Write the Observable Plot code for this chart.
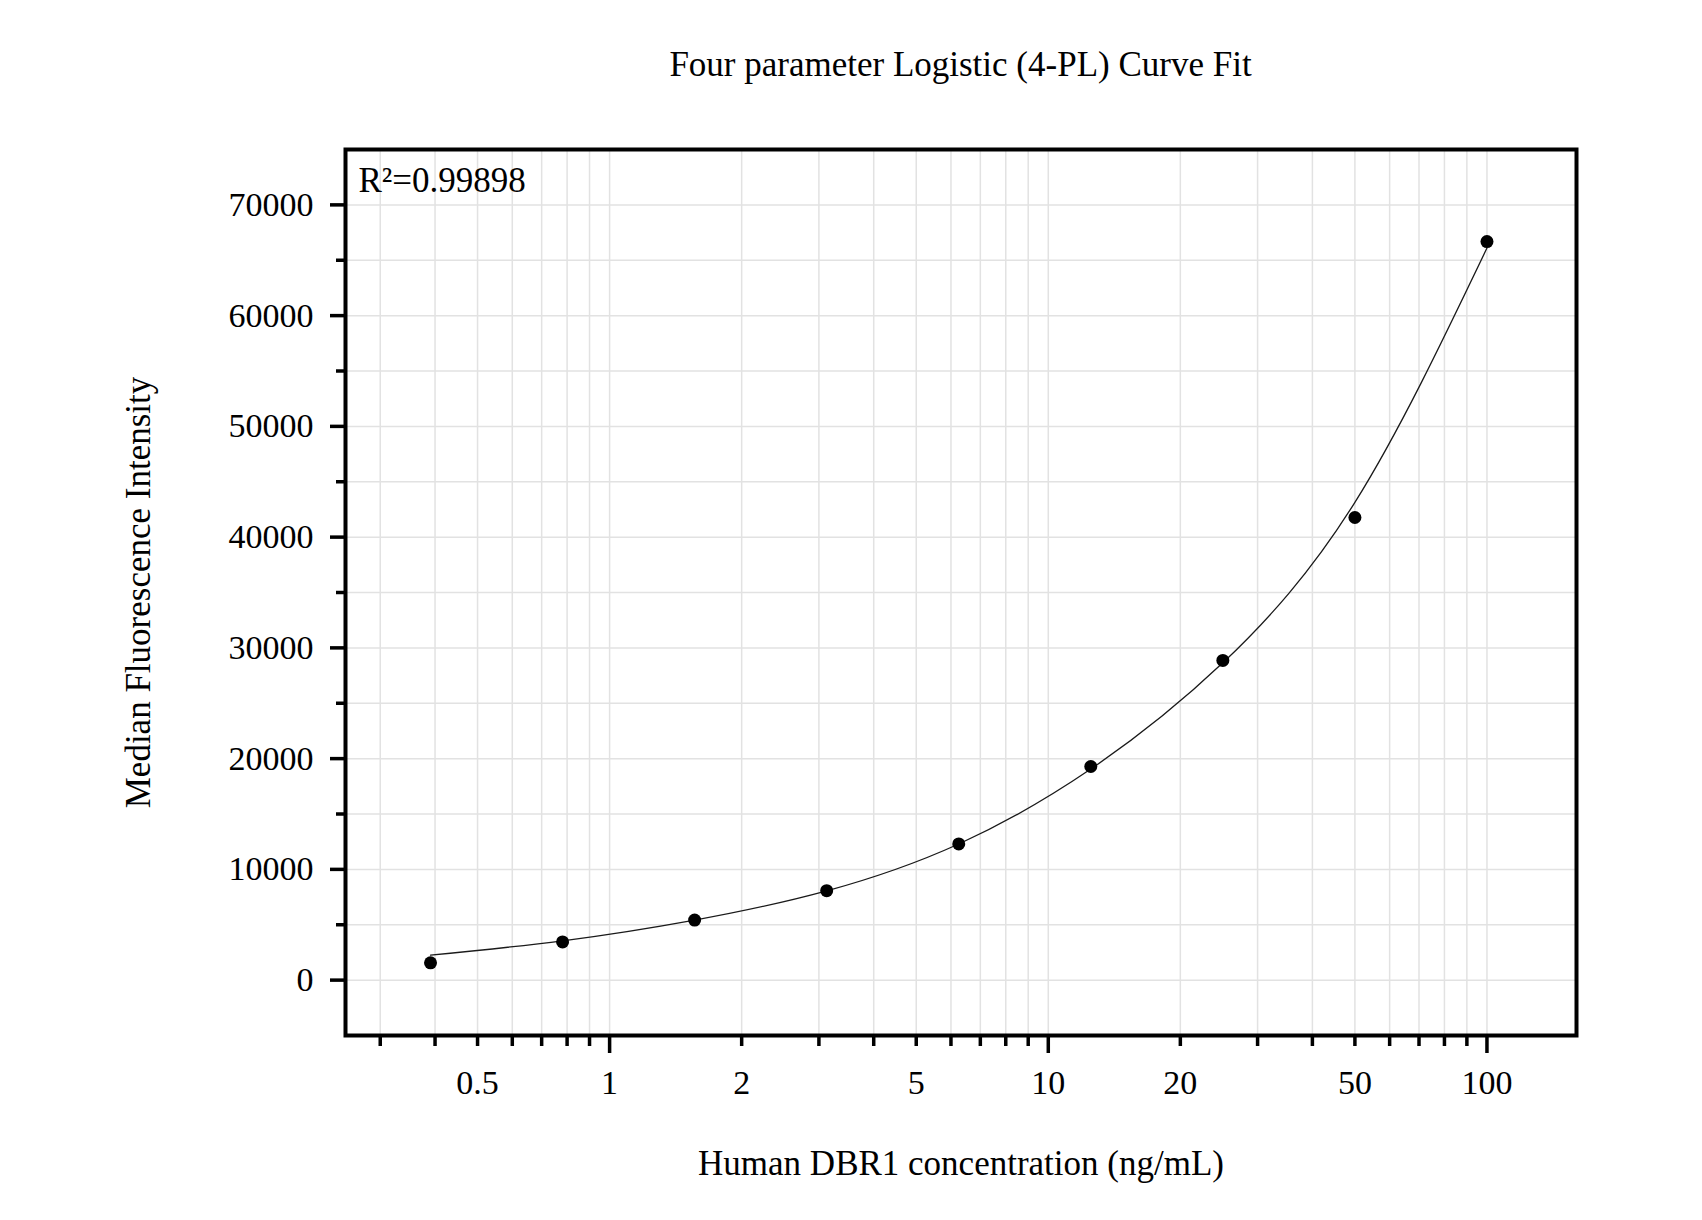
<!DOCTYPE html>
<html>
<head>
<meta charset="utf-8">
<script src="https://cdn.jsdelivr.net/npm/d3@7"></script>
<script src="https://cdn.jsdelivr.net/npm/@observablehq/plot@0.6"></script>
<style>
  html, body { margin: 0; padding: 0; background: white; }
  #title {
    margin-left: 345px; width: 1231px; height: 100px; line-height: 130px;
    text-align: center; font-family: "Liberation Serif", "Times New Roman", serif;
    font-size: 35px; color: black; white-space: nowrap;
  }
  svg { display: block; }
</style>
</head>
<body>
<div id="title">Four parameter Logistic (4-PL) Curve Fit</div>
<div id="chart"></div>
<script>
// Measured standards
const concentration = [0.390625, 0.78125, 1.5625, 3.125, 6.25, 12.5, 25, 50, 100];
const mfi = [1560, 3450, 5420, 8080, 12300, 19290, 28870, 41770, 66690];

// Fitted curve at each standard concentration
const fitConcentration = [0.390625, 0.78125, 1.5625, 3.125, 6.25, 12.5, 25, 50, 100];
const fitMfi = [2250, 3550, 5420, 8060, 12290, 19060, 28650, 43140, 66100];

// Axis ticks
const xTickLabels = [0.5, 1, 2, 5, 10, 20, 50, 100];
const xMajorTicks = [1, 10, 100];
const xMinorTicks = [0.3, 0.4, 0.5, 0.6, 0.7, 0.8, 0.9, 2, 3, 4, 5, 6, 7, 8, 9, 20, 30, 40, 50, 60, 70, 80, 90];
const xGridTicks = [0.3, 0.4, 0.5, 0.6, 0.7, 0.8, 0.9, 1, 2, 3, 4, 5, 6, 7, 8, 9, 10, 20, 30, 40, 50, 60, 70, 80, 90, 100];
const yMajorTicks = [0, 10000, 20000, 30000, 40000, 50000, 60000, 70000];
const yMinorTicks = [5000, 15000, 25000, 35000, 45000, 55000, 65000];
const yGridTicks = [0, 5000, 10000, 15000, 20000, 25000, 30000, 35000, 40000, 45000, 50000, 55000, 60000, 65000, 70000];

const titleX = "Human DBR1 concentration (ng/mL)";
const titleY = "Median Fluorescence Intensity";
const r2Text = "R\u00B2=0.99898";

const points = concentration.map((c, i) => ({c, v: mfi[i]}));
const fit = fitConcentration.map((c, i) => ({c, v: fitMfi[i]}));

const gridStyle = {stroke: "#e2e2e2", strokeOpacity: 1, strokeWidth: 1.5};

const chart = Plot.plot({
  width: 1702,
  height: 1120,
  marginLeft: 345,
  marginRight: 126,
  marginTop: 49,
  marginBottom: 185,
  x: {type: "log", domain: [0.25, 160]},
  y: {domain: [-5000, 75000]},
  style: {fontFamily: "'Liberation Serif', 'Times New Roman', serif", fontSize: "34px", background: "white", color: "black", overflow: "visible"},
  marks: [
    Plot.gridX(xGridTicks, gridStyle),
    Plot.gridY(yGridTicks, gridStyle),
    Plot.axisX(xMinorTicks, {tickSize: 11, strokeWidth: 3.5, text: null, label: null}),
    Plot.axisX(xMajorTicks, {tickSize: 18, strokeWidth: 3.5, text: null, label: null}),
    Plot.axisX(xTickLabels, {tickSize: 0, tickPadding: 34, label: null, tickFormat: d => String(d), fontSize: 34}),
    Plot.axisY(yMinorTicks, {tickSize: 9, strokeWidth: 3.5, text: null, label: null}),
    Plot.axisY(yMajorTicks, {tickSize: 15, strokeWidth: 3.5, tickPadding: 17, label: null, tickFormat: d => String(d), fontSize: 34}),
    Plot.line(fit, {x: "c", y: "v", curve: "natural", stroke: "#1a1a1a", strokeWidth: 1.3}),
    Plot.dot(points, {x: "c", y: "v", r: 6.5, fill: "black", stroke: null}),
    Plot.frame({stroke: "black", strokeWidth: 4}),
    Plot.text([r2Text], {frameAnchor: "top-left", dx: 13, dy: 31, textAnchor: "start", lineAnchor: "middle", fontSize: 35}),
    Plot.text([titleY], {frameAnchor: "left", dx: -207, rotate: -90, textAnchor: "middle", lineAnchor: "middle", fontSize: 35}),
    Plot.text([titleX], {frameAnchor: "bottom", dy: 128, textAnchor: "middle", lineAnchor: "middle", fontSize: 35})
  ]
});
document.getElementById("chart").appendChild(chart);
</script>
</body>
</html>
